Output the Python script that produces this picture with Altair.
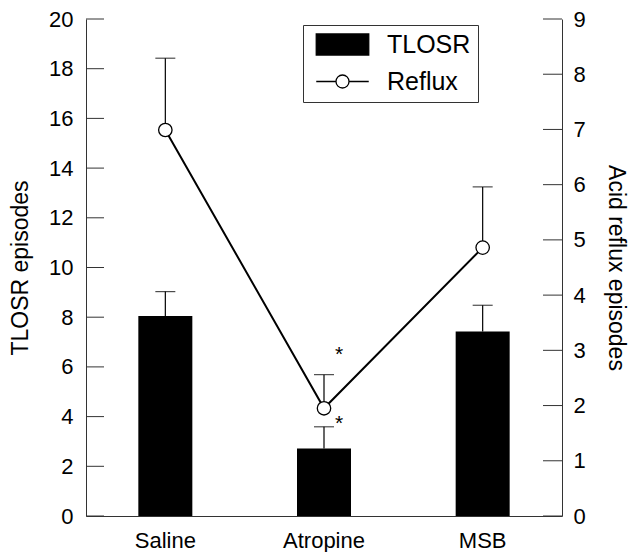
import altair as alt
import pandas as pd

# ---- data ----
groups = ["Saline", "Atropine", "MSB"]
tlosr = [8.05, 2.72, 7.42]
tlosr_err = [0.98, 0.87, 1.06]
reflux = [6.99, 1.95, 4.86]
reflux_err = [1.30, 0.61, 1.10]
left_ticks = [0, 2, 4, 6, 8, 10, 12, 14, 16, 18, 20]
right_ticks = [0, 1, 2, 3, 4, 5, 6, 7, 8, 9]
series = ["TLOSR", "Reflux"]
star_group = "Atropine"

W, H = 476, 497
FONT = "Liberation Sans"
AX = "#333333"

df = pd.DataFrame({
    "group": groups,
    "tlosr": tlosr,
    "tlosr_hi": [v + e for v, e in zip(tlosr, tlosr_err)],
    "reflux": reflux,
    "reflux_hi": [v + e for v, e in zip(reflux, reflux_err)],
})

x_enc = alt.X("group:N", sort=groups,
              scale=alt.Scale(paddingInner=0, paddingOuter=0),
              axis=alt.Axis(title=None, labelAngle=0, ticks=False, labelPadding=14,
                            labelFontSize=22, labelColor="black", domainColor=AX))

yl = alt.Scale(domain=[0, 20])
yr = alt.Scale(domain=[0, 9])

base = alt.Chart(df)

# ---- left (TLOSR) ----
bars = base.mark_bar(color="black", size=54).encode(
    x=x_enc,
    y=alt.Y("tlosr:Q", scale=yl,
            axis=alt.Axis(title="TLOSR episodes", orient="left", values=left_ticks,
                          ticks=False, labelPadding=13, labelFontSize=22,
                          titleFontSize=23, titleFontWeight="normal", titlePadding=16,
                          labelColor="black", titleColor="black", domainColor=AX)),
)
bar_err = base.mark_rule(color="black", strokeWidth=1.2).encode(
    x=x_enc, y=alt.Y("tlosr:Q", scale=yl, axis=None), y2="tlosr_hi:Q")
bar_cap = base.mark_tick(color="black", size=20, thickness=1.2).encode(
    x=x_enc, y=alt.Y("tlosr_hi:Q", scale=yl, axis=None))
bar_star = base.transform_filter(alt.datum.group == star_group).mark_text(
    text="*", font=FONT, fontSize=21, dx=15, dy=3, baseline="alphabetic", align="center"
).encode(x=x_enc, y=alt.Y("tlosr_hi:Q", scale=yl, axis=None))
lticks = alt.Chart(pd.DataFrame({"v": left_ticks})).mark_rule(color=AX, strokeWidth=1).encode(
    y=alt.Y("v:Q", scale=yl, axis=None), x=alt.value(0), x2=alt.value(18))

# ---- right (Reflux) ----
ref_err = base.mark_rule(color="black", strokeWidth=1.2).encode(
    x=x_enc,
    y=alt.Y("reflux:Q", scale=yr,
            axis=alt.Axis(title="Acid reflux episodes", orient="right", values=right_ticks,
                          ticks=False, labelPadding=11, labelFontSize=22,
                          titleFontSize=23, titleFontWeight="normal", titlePadding=18,
                          labelColor="black", titleColor="black", domainColor=AX)),
    y2="reflux_hi:Q")
ref_cap = base.mark_tick(color="black", size=20, thickness=1.2).encode(
    x=x_enc, y=alt.Y("reflux_hi:Q", scale=yr, axis=None))
ref_line = base.mark_line(color="black", strokeWidth=2).encode(
    x=x_enc, y=alt.Y("reflux:Q", scale=yr, axis=None))
ref_pts = base.mark_point(filled=True, fill="white", stroke="black", strokeWidth=1.3,
                          size=180, opacity=1, shape="circle").encode(
    x=x_enc, y=alt.Y("reflux:Q", scale=yr, axis=None))
ref_star = base.transform_filter(alt.datum.group == star_group).mark_text(
    text="*", font=FONT, fontSize=21, dx=15, dy=-14, baseline="alphabetic", align="center"
).encode(x=x_enc, y=alt.Y("reflux_hi:Q", scale=yr, axis=None))
rticks = alt.Chart(pd.DataFrame({"v": right_ticks})).mark_rule(color=AX, strokeWidth=1).encode(
    y=alt.Y("v:Q", scale=yr, axis=None), x=alt.value(W - 19), x2=alt.value(W))

# legend carrier (no rows drawn; legend built from the scale domains)
rect_path = "M-2.5,-1H2.5V1H-2.5Z"
line_circ = ("M-2.5,0H-0.62M0.62,0H2.5"
             "M-0.62,0A0.62,0.62 0 1,0 0.62,0A0.62,0.62 0 1,0 -0.62,0Z")
leg = alt.Legend(title=None, orient="none", legendX=217, legendY=6,
                 symbolSize=441, symbolStrokeWidth=1.3, symbolOpacity=1,
                 symbolOffset=20, labelOffset=32, labelFontSize=25, labelFont=FONT,
                 labelColor="black", padding=7, rowPadding=11,
                 labelExpr="datum.label + '\u00a0'",
                 strokeColor="#333333", fillColor="white")
legend_layer = alt.Chart(pd.DataFrame({"series": series})).transform_filter(
    "datum.series == 'none'").mark_point(filled=False, opacity=1, strokeWidth=1.3).encode(
    shape=alt.Shape("series:N", scale=alt.Scale(domain=series, range=[rect_path, line_circ]),
                    legend=leg),
    fill=alt.Fill("series:N", scale=alt.Scale(domain=series, range=["black", "white"]),
                  legend=leg),
    stroke=alt.Stroke("series:N", scale=alt.Scale(domain=series, range=["black", "black"]),
                      legend=leg),
)

chart = alt.layer(
    bars, bar_err, bar_cap, bar_star, lticks,
    ref_err, ref_cap, ref_line, ref_pts, ref_star, rticks, legend_layer
).resolve_scale(y="independent").properties(
    width=W, height=H,
    autosize=alt.AutoSizeParams(type="none"),
    padding={"left": 78, "top": 11, "right": 70, "bottom": 36},
).configure(font=FONT).configure_view(stroke=None).configure_axis(grid=False)

chart.save("out.html", embed_options={"renderer": "svg", "actions": False})
